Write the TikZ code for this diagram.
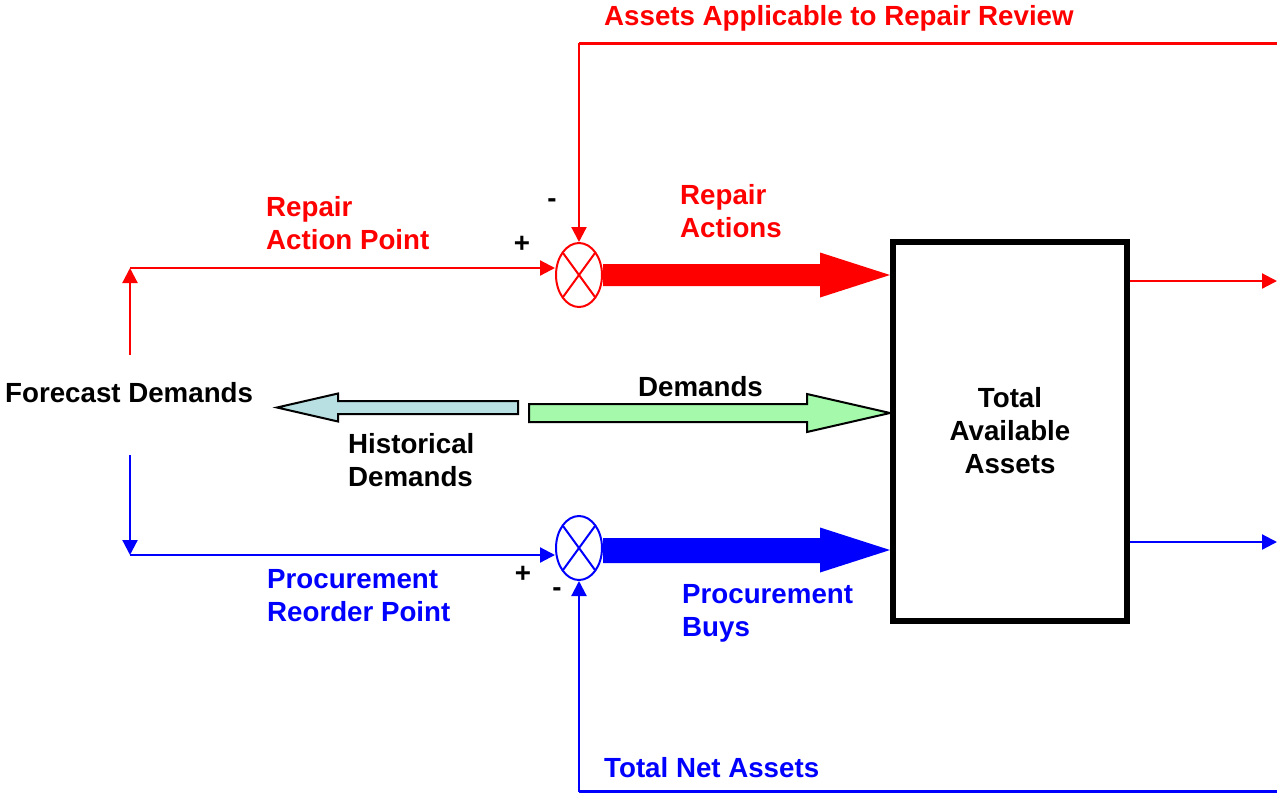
\documentclass[tikz,border=0pt]{standalone}
\usepackage{fontspec}
\setmainfont{Liberation Sans}
\usetikzlibrary{arrows.meta,shapes.geometric,calc}
\definecolor{demgreen}{RGB}{164,250,170}
\definecolor{histblue}{RGB}{184,224,226}

\begin{document}
\begin{tikzpicture}[x=1pt,y=-1pt,
  every node/.style={font=\bfseries\fontsize{27.7}{33}\selectfont, inner sep=0pt},
  lbl/.style={anchor=base west, align=left},
  sumjct/.style={ellipse, draw, line width=2pt, fill=white,
                 minimum width=46pt, minimum height=64pt},
  flow/.style={line width=2.2pt, -{Triangle[length=15pt,width=15pt]}},
  feed/.style={line width=3pt},
  fatarrow/.style={draw=black, line width=2pt, line join=miter},
]
\useasboundingbox (0,0) rectangle (1277,793);

% main blocks
\node[anchor=base west] (fc) at (5,402) {Forecast Demands};
\node[draw, line width=6pt, minimum width=234pt, minimum height=379pt,
      align=center] (box) at (1010,431) {Total\\Available\\Assets};
\node[sumjct, draw=red] (sumR) at (579,275) {};
\node[sumjct, draw=blue] (sumB) at (579,548) {};
\draw[red, line width=2pt] ($(sumR)+(-16,-22)$) -- ($(sumR)+(16,22)$)
                           ($(sumR)+(16,-22)$) -- ($(sumR)+(-16,22)$);
\draw[blue, line width=2pt] ($(sumB)+(-16,-22)$) -- ($(sumB)+(16,22)$)
                            ($(sumB)+(16,-22)$) -- ($(sumB)+(-16,22)$);

% helper points
\coordinate (fcUp) at (130,355);
\coordinate (fcDn) at (130,455);
\coordinate (cR) at (130,268);
\coordinate (cB) at (130,555);
\coordinate (topR) at (1277,43);
\coordinate (botB) at (1277,791.5);
\coordinate (outR) at (1277,281);
\coordinate (outB) at (1277,542);
\coordinate (tipR) at (sumR -| box.west);
\coordinate (tipB) at ($(sumB -| box.west)+(0,2)$);
\coordinate (dS) at (529,413);
\coordinate (dT) at (dS -| box.west);
\coordinate (hS) at (518,407.5);
\coordinate (hT) at (277,407.5);

% forecast split into the two reorder points
\draw[red, flow] (fcUp) -- (cR);
\draw[red, flow] (cR) -- (cR -| sumR.west);
\draw[blue, flow] (fcDn) -- (cB);
\draw[blue, flow] (cB) -- (cB -| sumB.west);

% feedback loops
\draw[red, feed] (topR) -- (topR -| sumR);
\draw[red, flow] (topR -| sumR) -- (sumR.north);
\draw[blue, feed] (botB) -- (botB -| sumB);
\draw[blue, flow] (botB -| sumB) -- (sumB.south);

% outputs of the asset pool
\draw[red, flow] (outR -| box.east) -- (outR);
\draw[blue, flow] (outB -| box.east) -- (outB);

% wide flow arrows
\fill[red] ($(sumR.east)+(0,-11)$) -- ($(tipR)+(-70,-11)$) -- ($(tipR)+(-70,-22.5)$)
  -- (tipR) -- ($(tipR)+(-70,22.5)$) -- ($(tipR)+(-70,11)$) -- ($(sumR.east)+(0,11)$) -- cycle;
\fill[blue] ($(sumB.east)+(0,-10)$) -- ($(tipB)+(-70,-12)$) -- ($(tipB)+(-70,-22.5)$)
  -- (tipB) -- ($(tipB)+(-70,22.5)$) -- ($(tipB)+(-70,13)$) -- ($(sumB.east)+(0,15)$) -- cycle;
\filldraw[fatarrow, fill=demgreen] ($(dS)+(0,-9)$) -- ($(dT)+(-83,-9)$) -- ($(dT)+(-83,-19)$)
  -- (dT) -- ($(dT)+(-83,19)$) -- ($(dT)+(-83,9)$) -- ($(dS)+(0,9)$) -- cycle;
\filldraw[fatarrow, fill=histblue] ($(hS)+(0,-6.5)$) -- ($(hT)+(61,-6.5)$) -- ($(hT)+(61,-14)$)
  -- (hT) -- ($(hT)+(61,14)$) -- ($(hT)+(61,6.5)$) -- ($(hS)+(0,6.5)$) -- cycle;

% labels (multi-line labels sit on the baseline of their last line)
\node[lbl, red] (lAAR) at (604,25) {Assets Applicable to Repair Review};
\node[lbl, red] (lRAP) at (266,249) {Repair\\Action Point};
\node[lbl, red] (lRA) at (680,237) {Repair\\Actions};
\node[lbl] (lDem) at (638,396) {Demands};
\node[lbl] (lHist) at (348,486) {Historical\\Demands};
\node[lbl, blue] (lPRP) at (267,621) {Procurement\\Reorder Point};
\node[lbl, blue] (lPB) at (682,636) {Procurement\\Buys};
\node[lbl, blue] (lTNA) at (604,777) {Total Net Assets};
\node (mR) at (552,203) {-};
\node (pR) at (522,244) {+};
\node (pB) at (523,574) {+};
\node (mB) at (557,592) {-};
\end{tikzpicture}
\end{document}
